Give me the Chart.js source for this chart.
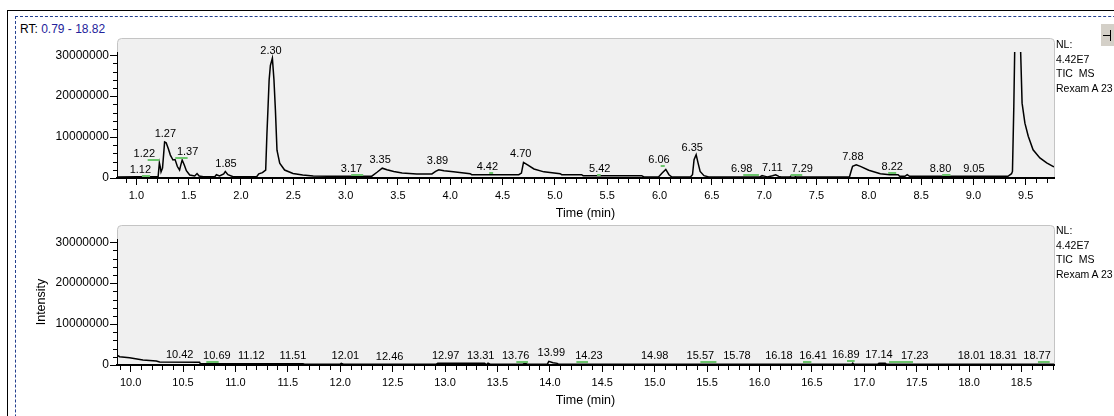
<!DOCTYPE html>
<html>
<head>
<meta charset="utf-8">
<title>TIC MS</title>
<script src="https://cdn.jsdelivr.net/npm/chart.js@4.4.0/dist/chart.umd.min.js"></script>
<style>
    body {
        margin: 0;
        width: 1114px;
        height: 416px;
        overflow: hidden;
        position: relative;
        background: #fff;
        font-family: "Liberation Sans", Arial, sans-serif;
    }
    #outerFrame {
        position: absolute; left: 7px; top: 10px; width: 1200px; height: 500px;
        border-left: 1px solid #000; border-top: 1px solid #000;
    }
    #viewFrame {
        position: absolute; left: 15px; top: 16px; width: 1200px; height: 500px;
        border-left: 1px dashed #24408f; border-top: 1px dashed #24408f;
    }
    .panel { position: absolute; left: 0; width: 1114px; height: 229px; }
    #topPanel { top: 0; }
    #bottomPanel { top: 187px; }
    #rtRange { position: absolute; left: 20px; top: 22px; font-size: 12px; line-height: 14px; color: #000; }
    #rtRange span { color: #23239b; }
    .scanInfo {
        position: absolute; left: 1056px; font-size: 10.5px; line-height: 14.7px;
        white-space: pre; color: #000;
    }
    #btn {
        position: absolute; left: 1100px; top: 23px; width: 20px; height: 22px;
        background: #d4d0c8; border-top: 1px solid #fff; border-left: 1px solid #fff;
    }
    #btn .h { position: absolute; left: 2px; top: 11px; width: 7px; height: 1px; background: #000; }
    #btn .v { position: absolute; left: 9px; top: 6px; width: 1px; height: 11px; background: #000; }
</style>
</head>
<body>
<div id="outerFrame"></div>
<div id="viewFrame"></div>
<div id="rtRange">RT: <span>0.79 - 18.82</span></div>
<div id="btn"><div class="h"></div><div class="v"></div></div>

<div class="panel" id="topPanel"><canvas id="topChart" width="1114" height="229"></canvas></div>
<div class="panel" id="bottomPanel"><canvas id="bottomChart" width="1114" height="229"></canvas></div>

<div class="scanInfo" style="top:37px">NL:
4.42E7
TIC  MS
Rexam A 23</div>
<div class="scanInfo" style="top:223px">NL:
4.42E7
TIC  MS
Rexam A 23</div>

<script>
// retention time (min) / intensity pairs, 0.8 - 9.8 min
const topTime = [0.815, 1.00, 1.208, 1.22, 1.228, 1.236, 1.25, 1.26, 1.27, 1.285, 1.305, 1.325, 1.35, 1.37,
    1.392, 1.413, 1.425, 1.438, 1.458, 1.478, 1.51, 1.558, 1.58, 1.6, 1.64, 1.75, 1.765, 1.795, 1.835, 1.85,
    1.875, 1.925, 2.15, 2.17, 2.205, 2.236, 2.248, 2.258, 2.269, 2.281, 2.30, 2.315, 2.329, 2.344, 2.37, 2.417,
    2.497, 2.59, 2.69, 2.83, 3.01, 3.25, 3.30, 3.35, 3.395, 3.46, 3.54, 3.68, 3.825, 3.86, 3.89, 3.94, 4.03,
    4.19, 4.205, 4.655, 4.68, 4.70, 4.735, 4.80, 4.895, 5.05, 5.065, 5.255, 5.27, 5.83, 5.85, 5.99, 6.025,
    6.06, 6.09, 6.115, 6.295, 6.315, 6.33, 6.35, 6.368, 6.388, 6.425, 6.47, 6.96, 6.98, 7.01, 7.03, 7.08,
    7.11, 7.14, 7.16, 7.245, 7.26, 7.29, 7.305, 7.815, 7.83, 7.845, 7.88, 7.92, 8.0, 8.11, 8.2, 8.28, 8.295,
    8.345, 8.367, 8.39, 9.33, 9.364, 9.373, 9.386, 9.395, 9.42, 9.45, 9.465, 9.492, 9.524, 9.57, 9.635, 9.70,
    9.76, 9.77];
const topIntensity = [0.25e6, 0.3e6, 0.3e6, 3.7e6, 2.8e6, 1.5e6, 2.4e6, 5.6e6, 8.8e6, 8.6e6, 7.2e6, 5.6e6,
    4.4e6, 4.5e6, 2.8e6, 1.95e6, 3.2e6, 4.4e6, 3.2e6, 1.8e6, 0.73e6, 0.5e6, 1.1e6, 0.5e6, 0.3e6, 0.3e6, 0.8e6,
    0.5e6, 1.0e6, 1.6e6, 0.8e6, 0.3e6, 0.3e6, 1.0e6, 1.3e6, 1.95e6, 10.9e6, 17e6, 24e6, 27.5e6, 29.3e6, 24e6,
    16.6e6, 6.8e6, 3.6e6, 1.95e6, 1.1e6, 0.73e6, 0.5e6, 0.45e6, 0.45e6, 0.45e6, 1.4e6, 2.4e6, 2.0e6, 1.6e6,
    1.2e6, 1.0e6, 1.0e6, 1.6e6, 2.0e6, 1.8e6, 1.5e6, 1.05e6, 0.8e6, 0.8e6, 1.2e6, 3.8e6, 3.25e6, 2.2e6, 1.5e6,
    1.05e6, 0.8e6, 0.8e6, 0.57e6, 0.57e6, 0.25e6, 0.25e6, 1.2e6, 2.1e6, 0.8e6, 0.3e6, 0.25e6, 0.8e6, 4.5e6,
    5.7e6, 3.7e6, 1.6e6, 0.57e6, 0.25e6, 0.25e6, 0.57e6, 0.4e6, 0.25e6, 0.57e6, 0.8e6, 0.4e6, 0.25e6, 0.25e6,
    0.57e6, 0.57e6, 0.25e6, 0.25e6, 1.6e6, 2.85e6, 3.25e6, 2.85e6, 1.9e6, 1.05e6, 0.8e6, 0.8e6, 0.4e6, 0.4e6,
    0.8e6, 0.4e6, 0.4e6, 1.05e6, 1.6e6, 17.5e6, 32e6, 44.2e6, 32e6, 18.3e6, 13.4e6, 10.2e6, 6.9e6, 4.9e6,
    3.7e6, 2.85e6, 2.7e6];

// 9.9 - 18.8 min
const bottomTime = [9.87, 9.895, 9.99, 10.117, 10.245, 10.277, 10.658, 10.665, 11.644, 11.66, 12.0, 12.01,
    12.03, 12.917, 12.93, 13.378, 13.395, 13.41, 13.43, 13.745, 13.76, 13.785, 13.976, 13.99, 14.03, 14.07,
    14.08, 16.88, 16.89, 16.90, 17.13, 17.14, 17.2, 17.21, 18.81];
const bottomIntensity = [2.44e6, 2.03e6, 1.79e6, 1.22e6, 0.98e6, 0.73e6, 0.65e6, 0.33e6, 0.33e6, 0.2e6,
    0.2e6, 0.4e6, 0.2e6, 0.2e6, 0.4e6, 0.4e6, 0.05e6, 0.45e6, 0.2e6, 0.2e6, 0.45e6, 0.2e6, 0.2e6, 0.9e6,
    0.57e6, 0.4e6, 0.2e6, 0.2e6, 0.45e6, 0.2e6, 0.2e6, 0.4e6, 0.4e6, 0.2e6, 0.2e6];

// peak annotations: RT text, where the text sits (min, intensity), green marker span
const topPeakRT = [1.12, 1.22, 1.27, 1.37, 1.85, 2.30, 3.17, 3.35, 3.89, 4.42, 4.70, 5.42, 6.06, 6.35,
    6.98, 7.11, 7.29, 7.88, 8.22, 8.80, 9.05];
const topLabelAt = [1.038, 1.076, 1.277, 1.49, 1.857, 2.287, 3.056, 3.33, 3.878, 4.355, 4.674, 5.429,
    5.995, 6.313, 6.785, 7.077, 7.364, 7.848, 8.224, 8.686, 9.004];
const topLabelLevel = [1.29e6, 5.2e6, 10.07e6, 5.6e6, 2.76e6, 30.4e6, 1.54e6, 3.73e6, 3.41e6, 1.95e6,
    5.2e6, 1.54e6, 3.59e6, 6.66e6, 1.54e6, 1.78e6, 1.54e6, 4.39e6, 1.95e6, 1.54e6, 1.54e6];
const topMarks = [[1.053, 1.131], [1.108, 1.22], null, [1.372, 1.49], null, null, [3.053, 3.168], null,
    null, [4.372, 4.41], null, [5.403, 5.438], [6.011, 6.05], null, [6.8, 6.95], null, [7.253, 7.364], null,
    [8.185, 8.262], [8.701, 8.781], null];

const bottomPeakRT = [10.42, 10.69, 11.12, 11.51, 12.01, 12.46, 12.97, 13.31, 13.76, 13.99, 14.23, 14.98,
    15.57, 15.78, 16.18, 16.41, 16.89, 17.14, 17.23, 18.01, 18.31, 18.77];
const bottomLabelAt = [10.468, 10.823, 11.152, 11.549, 12.049, 12.471, 13.006, 13.34, 13.674, 14.014,
    14.373, 15.0, 15.436, 15.785, 16.186, 16.511, 16.823, 17.14, 17.481, 18.022, 18.324, 18.648];
const bottomLabelLevel = [1.64e6, 1.47e6, 1.47e6, 1.47e6, 1.47e6, 1.22e6, 1.47e6, 1.47e6, 1.47e6, 2.27e6,
    1.47e6, 1.47e6, 1.47e6, 1.47e6, 1.47e6, 1.47e6, 1.64e6, 1.71e6, 1.47e6, 1.47e6, 1.47e6, 1.47e6];
const bottomMarks = [null, [10.722, 10.84], null, null, null, null, null, null, [13.68, 13.791], null,
    [14.253, 14.364], null, [15.436, 15.589], null, null, [16.415, 16.495], [16.835, 16.908], null,
    [17.236, 17.465], null, null, [18.657, 18.769]];

// axes
const topRange = [0.815, 9.77];
const bottomRange = [9.87, 18.81];
const topTicks = [1.0, 1.5, 2.0, 2.5, 3.0, 3.5, 4.0, 4.5, 5.0, 5.5, 6.0, 6.5, 7.0, 7.5, 8.0, 8.5, 9.0, 9.5];
const bottomTicks = [10.0, 10.5, 11.0, 11.5, 12.0, 12.5, 13.0, 13.5, 14.0, 14.5, 15.0, 15.5, 16.0, 16.5,
    17.0, 17.5, 18.0, 18.5];
const intensityTicks = [0, 10000000, 20000000, 30000000];
const intensityMax = 30.8e6;

const FONT = '"Liberation Sans", Arial, sans-serif';

// gray plot box behind the trace, plus the small unlabeled ticks
const panelDecor = {
    id: 'panelDecor',
    beforeDraw(chart) {
        const { ctx, chartArea: a } = chart;
        ctx.save();
        ctx.fillStyle = '#f0f0f0';
        ctx.strokeStyle = '#c4c4c4';
        ctx.lineWidth = 1;
        ctx.beginPath();
        ctx.roundRect(a.left + 0.5, a.top - 13.5, a.right - a.left, a.bottom - a.top + 13.5, [4, 4, 0, 0]);
        ctx.fill();
        ctx.stroke();
        ctx.restore();
    },
    afterDraw(chart) {
        const { ctx, chartArea: a } = chart;
        const xs = chart.scales.x, ys = chart.scales.y;
        ctx.save();
        ctx.strokeStyle = '#000';
        ctx.lineWidth = 1;
        ctx.beginPath();
        for (let k = Math.ceil(xs.min * 10); k <= Math.floor(xs.max * 10); k++) {
            if (k % 5 === 0) continue;
            const px = Math.round(xs.getPixelForValue(k / 10)) + 0.5;
            ctx.moveTo(px, a.bottom);
            ctx.lineTo(px, a.bottom + 5);
        }
        for (let k = 1; k * 2e6 <= ys.max; k++) {
            if (k % 5 === 0) continue;
            const py = Math.round(ys.getPixelForValue(k * 2e6)) + 0.5;
            ctx.moveTo(a.left - 4, py);
            ctx.lineTo(a.left, py);
        }
        ctx.stroke();
        ctx.restore();
    }
};

function peakLabels(rts, at, level, marks) {
    return {
        id: 'peakLabels',
        afterDatasetsDraw(chart) {
            const { ctx } = chart;
            const xs = chart.scales.x, ys = chart.scales.y;
            ctx.save();
            ctx.font = '11px ' + FONT;
            ctx.textAlign = 'center';
            ctx.textBaseline = 'alphabetic';
            rts.forEach((rt, i) => {
                const px = xs.getPixelForValue(at[i]);
                const py = Math.round(ys.getPixelForValue(level[i]));
                ctx.fillStyle = '#000';
                ctx.fillText(rt.toFixed(2), px, py);
                const m = marks[i];
                if (m) {
                    ctx.strokeStyle = '#6cc46c';
                    ctx.lineWidth = 2;
                    ctx.beginPath();
                    ctx.moveTo(xs.getPixelForValue(m[0]), py + 3);
                    ctx.lineTo(xs.getPixelForValue(m[1]), py + 3);
                    ctx.stroke();
                }
            });
            ctx.restore();
        }
    };
}

function buildChart(canvasId, time, intensity, range, ticks, labelPlugin, showIntensityTitle) {
    const ctx = document.getElementById(canvasId).getContext('2d');
    return new Chart(ctx, {
        type: 'line',
        data: {
            datasets: [{
                data: time.map((t, i) => ({ x: t, y: intensity[i] })),
                borderColor: '#000',
                borderWidth: 1.5,
                pointRadius: 0,
                tension: 0,
                fill: false
            }]
        },
        options: {
            responsive: false,
            animation: false,
            events: [],
            layout: { padding: { left: 0, top: 52, right: 60, bottom: 0 } },
            plugins: { legend: { display: false }, tooltip: { enabled: false } },
            scales: {
                x: {
                    type: 'linear',
                    min: range[0],
                    max: range[1],
                    afterBuildTicks: (axis) => { axis.ticks = ticks.map(v => ({ value: v })); },
                    afterFit: (axis) => { axis.height = 51; },
                    grid: { drawOnChartArea: false, drawTicks: true, tickLength: 7, color: '#000' },
                    border: { display: true, color: '#000', width: 2 },
                    ticks: {
                        autoSkip: false, maxRotation: 0, padding: 4, color: '#000',
                        font: { family: FONT, size: 11 },
                        callback: (v) => Number(v).toFixed(1)
                    },
                    title: {
                        display: true, text: 'Time (min)', color: '#000',
                        font: { family: FONT, size: 12.5 }, padding: { top: 0, bottom: 7.5 }
                    }
                },
                y: {
                    min: 0,
                    max: intensityMax,
                    afterBuildTicks: (axis) => { axis.ticks = intensityTicks.map(v => ({ value: v })); },
                    afterFit: (axis) => { axis.width = 117; },
                    grid: { drawOnChartArea: false, drawTicks: true, tickLength: 7, color: '#000' },
                    border: { display: true, color: '#000', width: 1 },
                    ticks: {
                        padding: 1, color: '#000',
                        font: { family: FONT, size: 12 },
                        callback: (v) => String(v)
                    },
                    title: {
                        display: showIntensityTitle, text: 'Intensity', color: '#000',
                        font: { family: FONT, size: 12.5 }, padding: { top: 34.5, bottom: 0 }
                    }
                }
            }
        },
        plugins: [panelDecor, labelPlugin]
    });
}

buildChart('topChart', topTime, topIntensity, topRange, topTicks,
    peakLabels(topPeakRT, topLabelAt, topLabelLevel, topMarks), false);
buildChart('bottomChart', bottomTime, bottomIntensity, bottomRange, bottomTicks,
    peakLabels(bottomPeakRT, bottomLabelAt, bottomLabelLevel, bottomMarks), true);
</script>
</body>
</html>
